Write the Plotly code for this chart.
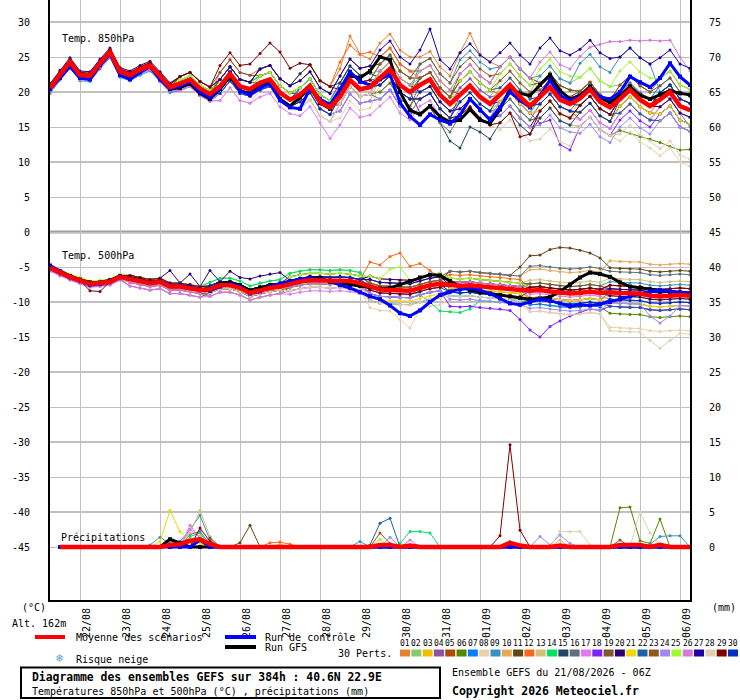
import plotly.graph_objects as go

# ---------------- data ----------------
steps = list(range(65))          # 6-hourly steps from 21/08 06Z
day_labels = ["22/08", "23/08", "24/08", "25/08", "26/08", "27/08", "28/08", "29/08",
              "30/08", "31/08", "01/09", "02/09", "03/09", "04/09", "05/09", "06/09"]
member_ids = ["01", "02", "03", "04", "05", "06", "07", "08", "09", "10",
              "11", "12", "13", "14", "15", "16", "17", "18", "19", "20",
              "21", "22", "23", "24", "25", "26", "27", "28", "29", "30"]
member_colors = ["#e88030", "#88c870", "#f0c000", "#9050a8", "#b04808", "#588800",
                 "#0080ff", "#e8d0a8", "#3890c0", "#e8a858", "#604818", "#f86818",
                 "#d0c078", "#00e060", "#204860", "#607078", "#e078f8", "#8020f8",
                 "#805830", "#300070", "#f0d800", "#2060a0", "#905820", "#a088f0",
                 "#a0f830", "#d878d8", "#2000a0", "#e0d0b0", "#800000", "#0030c0"]

# Temperature 850 hPa (degC)
t850_mean = [20.6,22.5,24.3,22.4,22.3,24.1,25.7,22.9,22.4,23.2,23.8,22.3,20.7,
             21.2,21.8,20.5,19.7,20.8,22.6,20.8,20.4,21.3,21.8,19.9,18.9,
             19.6,20.9,18.6,17.8,19.3,21.7,20.4,20.7,22.0,23.3,21.0,20.0,21.0,21.8,19.6,18.3,
             19.6,20.9,19.3,18.3,19.6,21.0,19.3,18.0,19.3,20.7,18.9,18.3,19.1,20.4,18.6,17.8,
             19.0,20.3,18.9,18.0,18.9,20.0,18.0,17.4]
t850_ctrl = [20.4,22.0,23.6,22.0,21.8,23.8,25.4,22.4,21.8,22.8,23.6,21.8,20.5,
             20.8,21.5,20.0,19.2,20.5,22.8,20.2,19.6,20.6,21.2,18.8,17.8,
             17.6,20.5,19.0,18.2,20.4,22.9,21.5,21.0,21.8,22.5,18.5,16.5,15.3,16.8,16.0,15.5,
             16.7,19.0,17.5,16.0,17.8,20.0,18.8,17.8,19.5,21.7,19.5,18.8,19.3,20.5,19.3,19.0,
             20.0,22.2,21.4,20.7,22.0,24.1,22.2,21.0]
t850_gfs = [20.5,22.3,24.0,22.2,22.0,24.0,25.6,22.6,22.0,23.0,23.8,22.0,20.4,
            20.6,21.2,19.8,19.0,20.4,22.2,20.2,19.8,20.8,21.4,19.0,18.0,
            19.2,20.6,18.4,17.6,19.6,22.4,22.0,23.0,25.0,24.6,20.0,17.4,16.8,18.0,16.5,15.7,
            16.0,17.5,16.0,15.5,17.5,20.5,19.8,19.5,21.0,22.4,20.2,19.0,19.5,20.8,19.2,18.5,
            19.5,20.8,19.5,19.0,19.6,20.2,19.8,19.6]

t850_01 = [20.8,22.7,24.5,22.6,22.5,24.3,25.9,23.1,22.6,23.4,24.0,22.5,20.9,
           21.2,21.8,20.5,19.7,21.8,23.6,21.8,21.4,23.3,23.8,21.9,20.9,
           22.6,23.9,21.6,20.8,23.3,28.0,25.4,24.7,27.0,28.3,26.0,25.0,25.0,25.8,23.6,22.3,
           25.6,28.4,25.3,24.3,23.6,25.0,23.3,22.0,20.3,21.7,19.9,19.3,20.1,21.4,19.6,18.8,
           19.0,20.3,18.9,18.0,18.9,20.0,18.0,17.4]
t850_02 = [20.3,22.2,24.0,22.1,22.0,23.8,25.4,22.6,22.1,22.9,23.5,22.0,20.4,
           21.7,22.3,21.0,20.2,21.8,23.6,21.8,21.4,22.3,22.8,20.9,19.9,
           20.6,21.9,19.6,18.8,21.3,23.7,22.4,22.7,23.0,24.3,22.0,21.0,22.0,22.8,20.6,19.3,
           20.6,21.9,20.3,19.3,21.6,23.0,21.3,20.0,22.3,23.7,21.9,21.3,22.1,23.4,21.6,20.8,
           21.0,22.3,20.9,20.0,19.9,21.0,19.0,18.4]
t850_03 = [20.9,22.8,24.6,22.7,22.6,24.4,26.0,23.2,22.7,23.5,24.1,22.6,21.0,
           21.7,22.3,21.0,20.2,20.8,22.6,20.8,20.4,21.3,21.8,19.9,18.9,
           18.6,19.9,17.6,16.8,19.3,21.7,20.4,20.7,21.0,22.3,20.0,19.0,19.0,19.8,17.6,16.3,
           19.6,20.9,19.3,18.3,20.6,22.0,20.3,19.0,18.3,19.7,17.9,17.3,17.1,18.4,16.6,15.8,
           18.0,19.3,17.9,17.0,16.9,18.0,16.0,15.4]
t850_04 = [20.1,22.0,23.8,21.9,21.8,23.6,25.2,22.4,21.9,22.7,23.3,21.8,20.2,
           20.2,20.8,19.5,18.7,19.8,21.6,19.8,19.4,20.3,20.8,18.9,17.9,
           17.6,18.9,16.6,15.8,18.3,20.7,19.4,19.7,20.0,21.3,19.0,18.0,21.0,21.8,19.6,18.3,
           20.6,21.9,20.3,19.3,19.6,21.0,19.3,18.0,18.3,19.7,17.9,17.3,16.1,17.4,15.6,14.8,
           17.0,18.3,16.9,16.0,15.9,17.0,15.0,14.4]
t850_05 = [20.6,22.4,24.4,22.5,22.3,24.2,25.8,22.9,22.3,23.3,23.9,22.4,20.8,
           21.2,21.8,20.5,19.7,21.8,23.6,21.8,21.4,22.3,22.8,20.9,19.9,
           20.6,21.9,19.6,18.8,21.3,23.7,22.4,22.7,25.0,26.3,24.0,23.0,23.0,23.8,21.6,20.3,
           19.6,20.9,19.3,18.3,18.6,20.0,18.3,17.0,17.3,18.7,16.9,16.3,18.1,19.4,17.6,16.8,
           19.0,20.3,18.9,18.0,17.9,19.0,17.0,16.4]
t850_06 = [20.4,22.3,24.1,22.2,22.1,23.9,25.5,22.7,22.2,23.0,23.6,22.1,20.5,
           20.7,21.3,20.0,19.2,20.8,22.6,20.8,20.4,21.3,21.8,19.9,18.9,
           19.6,20.9,18.6,17.8,18.3,20.7,19.4,19.7,20.0,21.3,19.0,18.0,20.0,20.8,18.6,17.3,
           18.6,19.9,18.3,17.3,17.6,19.0,17.3,16.0,16.3,17.7,15.9,15.3,15.1,16.4,14.6,13.8,
           14.5,14.1,13.6,13.3,12.8,12.2,11.7,11.8]
t850_07 = [20.0,21.9,23.7,21.8,21.7,23.5,25.1,22.3,21.8,22.6,23.2,21.7,20.1,
           20.2,20.8,19.5,18.7,19.8,21.6,19.8,19.4,21.3,21.8,19.9,18.9,
           19.6,20.9,18.6,17.8,20.3,22.7,21.4,21.7,22.0,23.3,21.0,20.0,20.0,20.8,18.6,17.3,
           17.6,18.9,17.3,16.3,18.6,20.0,18.3,17.0,19.3,20.7,18.9,18.3,20.1,21.4,19.6,18.8,
           20.0,21.3,19.9,19.0,20.9,22.0,20.0,19.4]
t850_08 = [20.2,22.1,23.9,22.0,21.9,23.7,25.3,22.5,22.0,22.8,23.4,21.9,20.3,
           20.2,20.8,19.5,18.7,18.8,20.6,18.8,18.4,20.3,20.8,18.9,17.9,
           17.6,18.9,16.6,15.8,16.3,18.7,17.4,17.7,21.0,22.3,20.0,19.0,19.0,19.8,17.6,16.3,
           16.6,17.9,16.3,15.3,15.6,17.0,15.3,14.0,16.3,17.7,15.9,15.3,15.1,16.4,14.6,13.8,
           13.0,14.3,12.9,12.0,10.9,12.0,10.0,9.4]
t850_09 = [19.8,21.7,23.5,21.6,21.5,23.3,24.9,22.1,21.6,22.4,23.0,21.5,19.9,
           20.2,20.8,19.5,18.7,19.8,21.6,19.8,19.4,20.3,20.8,18.9,17.9,
           20.6,21.9,19.6,18.8,21.3,23.7,22.4,22.7,22.0,23.3,21.0,20.0,24.0,24.8,22.6,21.3,
           24.6,25.9,24.3,23.3,23.6,25.0,23.3,22.0,22.3,23.7,21.9,21.3,24.1,25.4,23.6,22.8,
           25.0,26.3,24.9,24.0,20.0,19.0,17.0,15.0]
t850_10 = [21.0,22.9,24.7,22.8,22.7,24.5,26.1,23.3,22.8,23.6,24.2,22.7,21.1,
           22.2,22.8,21.5,20.7,21.8,23.6,21.8,21.4,22.3,22.8,20.9,19.9,
           19.6,20.9,18.6,17.8,20.3,22.7,21.4,21.7,24.0,25.3,23.0,22.0,22.0,22.8,20.6,19.3,
           19.6,20.9,19.3,18.3,20.6,22.0,20.3,19.0,19.3,20.7,18.9,18.3,18.1,19.4,17.6,16.8,
           17.0,18.3,16.9,16.0,17.9,19.0,17.0,16.4]
t850_11 = [20.7,22.6,24.2,22.4,22.4,24.0,25.6,23.0,22.5,23.1,23.7,22.3,20.6,
           22.2,22.8,21.5,20.7,21.8,23.6,21.8,21.4,23.3,23.8,21.9,20.9,
           21.6,22.9,20.6,19.8,22.3,24.7,23.4,23.7,24.0,25.3,23.0,22.0,22.0,22.8,20.6,19.3,
           22.6,23.9,22.3,21.3,23.6,25.0,23.3,22.0,21.3,22.7,20.9,20.3,20.1,21.4,19.6,18.8,
           19.0,20.3,18.9,18.0,19.9,21.0,19.0,18.4]
t850_12 = [20.8,22.7,24.4,22.6,22.5,24.3,25.8,23.1,22.6,23.4,23.9,22.5,20.9,
           21.2,21.8,20.5,19.7,22.8,24.6,22.8,22.4,23.3,23.8,21.9,20.9,
           22.6,23.9,21.6,20.8,24.3,26.7,25.4,25.7,25.0,26.3,24.0,23.0,22.0,22.8,20.6,19.3,
           21.6,22.9,21.3,20.3,19.6,21.0,19.3,18.0,18.3,19.7,17.9,17.3,17.1,18.4,16.6,15.8,
           18.0,19.3,17.9,17.0,18.9,20.0,18.0,17.4]
t850_13 = [20.4,22.3,24.1,22.2,22.1,23.9,25.5,22.7,22.2,23.0,23.6,22.1,20.5,
           21.2,21.8,20.5,19.7,19.8,21.6,19.8,19.4,21.3,21.8,19.9,18.9,
           18.6,19.9,17.6,16.8,17.3,19.7,18.4,18.7,22.0,23.3,21.0,20.0,22.0,22.8,20.6,19.3,
           19.6,20.9,19.3,18.3,18.6,20.0,18.3,17.0,17.3,18.7,16.9,16.3,19.1,20.4,18.6,17.8,
           20.0,21.3,19.9,19.0,18.9,20.0,18.0,17.4]
t850_14 = [20.6,22.5,24.3,22.3,22.2,24.1,25.6,22.8,22.4,23.2,23.8,22.3,20.7,
           21.7,22.3,21.0,20.2,21.8,23.6,21.8,21.4,22.3,22.8,20.9,19.9,
           20.6,21.9,19.6,18.8,19.3,21.7,20.4,20.7,23.0,24.3,22.0,21.0,21.0,21.8,19.6,18.3,
           18.6,19.9,18.3,17.3,18.6,20.0,18.3,17.0,19.3,20.7,18.9,18.3,20.1,21.4,19.6,18.8,
           19.0,20.3,18.9,18.0,19.9,21.0,19.0,18.4]
t850_15 = [20.3,22.2,24.0,22.1,22.0,23.8,25.4,22.6,22.1,22.9,23.5,22.0,20.4,
           21.2,21.8,20.5,19.7,21.8,23.6,21.8,21.4,23.3,23.8,21.9,20.9,
           22.6,23.9,21.6,20.8,21.3,23.7,22.4,22.7,22.0,23.3,21.0,20.0,17.0,17.8,15.6,13.0,
           12.0,15.0,14.3,13.3,15.6,17.0,15.3,14.0,16.3,17.7,15.9,15.3,17.1,18.4,16.6,15.8,
           18.0,19.3,17.9,17.0,16.9,18.0,16.0,15.4]
t850_16 = [20.7,22.6,24.4,22.5,22.4,24.2,25.8,23.0,22.5,23.3,23.9,22.4,20.8,
           20.7,21.3,20.0,19.2,20.8,22.6,20.8,20.4,22.3,22.8,20.9,19.9,
           19.6,20.9,18.6,17.8,18.3,20.7,19.4,19.7,19.0,20.3,18.0,17.0,17.0,17.8,15.6,14.3,
           16.6,17.9,16.3,15.3,17.6,19.0,17.3,16.0,18.3,19.7,17.9,17.3,19.1,20.4,18.6,17.8,
           20.0,21.3,19.9,19.0,18.9,20.0,18.0,17.4]
t850_17 = [20.0,21.9,23.7,21.8,21.7,23.5,25.1,22.3,21.8,22.6,23.2,21.7,20.1,
           20.2,20.8,19.5,18.7,18.8,20.6,18.8,18.4,19.3,19.8,17.9,16.9,
           16.6,17.9,15.6,13.4,15.3,17.7,16.4,16.7,18.0,19.3,17.0,16.0,18.0,18.8,16.6,15.3,
           17.6,18.9,17.3,16.3,18.6,20.0,18.3,17.0,17.3,18.7,16.9,16.3,16.1,17.4,15.6,14.8,
           17.0,18.3,16.9,16.0,17.9,19.0,17.0,16.4]
t850_18 = [20.6,22.5,24.2,22.4,22.3,24.0,25.7,22.9,22.3,23.2,23.8,22.2,20.7,
           21.2,21.8,20.5,19.7,19.8,21.6,19.8,19.4,20.3,20.8,18.9,17.9,
           18.6,19.9,17.6,16.8,17.3,19.7,18.4,18.7,19.0,20.3,18.0,17.0,19.0,19.8,17.6,16.3,
           19.6,20.9,19.3,18.3,18.6,20.0,18.3,17.0,15.5,16.0,12.5,11.7,15.1,16.4,14.6,13.8,
           16.0,17.3,15.9,15.0,16.9,18.0,16.0,15.4]
t850_19 = [20.9,22.8,24.6,22.7,22.6,24.4,26.0,23.2,22.7,23.5,24.1,22.6,21.0,
           22.2,22.8,21.5,20.7,22.8,24.6,22.8,22.4,22.3,22.8,20.9,19.9,
           19.6,20.9,18.6,17.8,20.3,22.7,21.4,21.7,24.0,25.3,23.0,22.0,24.0,24.8,22.6,21.3,
           23.6,24.9,23.3,22.3,22.6,24.0,22.3,21.0,21.3,22.7,20.9,20.3,20.1,21.4,19.6,18.8,
           21.0,22.3,20.9,20.0,21.9,23.0,21.0,20.4]
t850_20 = [20.5,22.5,24.3,22.5,22.3,24.1,25.7,22.8,22.4,23.2,23.8,22.3,20.6,
           21.2,21.8,20.5,19.7,20.8,22.6,20.8,20.4,20.3,20.8,18.9,17.9,
           18.6,19.9,17.6,16.8,19.3,21.7,20.4,20.7,23.0,24.3,22.0,21.0,20.0,20.8,18.6,17.3,
           17.6,18.9,17.3,16.3,16.6,18.0,16.3,15.0,17.3,18.7,16.9,16.3,18.1,19.4,17.6,16.8,
           19.0,20.3,18.9,18.0,17.9,19.0,17.0,16.4]
t850_21 = [21.1,23.0,24.8,22.9,22.8,24.6,26.2,23.4,22.9,23.7,24.3,22.8,21.2,
           22.2,22.8,21.5,20.7,20.8,22.6,20.8,20.4,21.3,21.8,19.9,18.9,
           18.6,19.9,17.6,16.8,19.3,21.7,20.4,20.7,23.0,24.3,22.0,21.0,21.0,21.8,19.6,18.3,
           18.6,19.9,18.3,17.3,18.6,20.0,18.3,17.0,17.3,18.7,16.9,16.3,17.1,18.4,16.6,15.8,
           18.0,19.3,17.9,17.0,16.9,18.0,16.0,15.4]
t850_22 = [20.4,22.3,24.1,22.2,22.1,23.9,25.5,22.7,22.2,23.0,23.6,22.1,20.5,
           21.2,21.8,20.5,19.7,20.8,22.6,20.8,20.4,21.3,21.8,19.9,18.9,
           20.6,21.9,19.6,18.8,19.3,21.7,20.4,20.7,21.0,22.3,20.0,19.0,22.0,22.8,20.6,19.3,
           21.6,22.9,21.3,20.3,20.6,22.0,20.3,19.0,19.3,20.7,18.9,18.3,18.1,19.4,17.6,16.8,
           17.0,18.3,16.9,16.0,15.9,17.0,15.0,14.4]
t850_23 = [20.9,22.8,24.6,22.7,22.6,24.4,26.0,23.2,22.7,23.5,24.1,22.6,21.0,
           21.2,21.8,20.5,19.7,21.8,23.6,21.8,21.4,21.3,21.8,19.9,18.9,
           19.6,20.9,18.6,17.8,18.3,20.7,19.4,19.7,22.0,23.3,21.0,20.0,22.0,22.8,20.6,19.3,
           21.6,22.9,21.3,20.3,21.6,23.0,21.3,20.0,20.3,21.7,19.9,19.3,20.1,21.4,19.6,18.8,
           21.0,22.3,20.9,20.0,20.9,22.0,20.0,19.4]
t850_24 = [20.3,22.2,24.0,22.1,22.0,23.8,25.4,22.6,22.1,22.9,23.5,22.0,20.4,
           20.2,20.8,19.5,18.7,19.8,21.6,19.8,19.4,20.3,20.8,18.9,17.9,
           18.6,19.9,17.6,16.8,17.3,19.7,18.4,18.7,19.0,20.3,18.0,17.0,19.0,19.8,17.6,16.3,
           18.6,19.9,18.3,17.3,16.6,18.0,16.3,15.0,15.3,16.7,14.9,14.3,14.1,15.4,13.6,12.8,
           15.0,16.3,14.9,14.0,15.9,17.0,15.0,14.4]
t850_25 = [20.6,22.6,24.3,22.4,22.2,24.1,25.7,22.9,22.5,23.2,23.8,22.4,20.7,
           21.7,22.3,21.0,20.2,20.8,22.6,20.8,20.4,22.3,22.8,20.9,19.9,
           20.6,21.9,19.6,18.8,19.3,21.7,20.4,20.7,23.0,24.3,22.0,21.0,23.0,23.8,21.6,20.3,
           21.6,22.9,21.3,20.3,22.6,24.0,22.3,21.0,23.3,24.7,22.9,22.3,22.1,23.4,21.6,20.8,
           23.0,24.3,22.9,22.0,21.9,23.0,21.0,20.4]
t850_26 = [20.1,22.0,23.8,21.9,21.8,23.6,25.2,22.4,21.9,22.7,23.3,21.8,20.2,
           20.2,20.8,19.5,18.7,19.8,21.6,19.8,19.4,21.3,21.8,19.9,18.9,
           19.6,20.9,18.6,17.8,18.3,20.7,19.4,19.7,23.0,24.3,22.0,21.0,23.0,23.8,21.6,20.3,
           22.6,23.9,22.3,21.3,23.6,25.0,23.3,22.0,24.3,25.7,23.9,23.3,25.1,26.4,26.8,27.2,
           27.2,27.4,27.3,27.4,27.3,27.4,25.0,23.0]
t850_27 = [21.2,23.1,24.9,23.0,22.9,24.7,26.3,23.5,23.0,23.8,24.4,22.9,21.3,
           22.2,22.8,21.5,20.7,21.8,23.6,21.8,21.4,23.3,23.8,21.9,20.9,
           21.6,22.9,20.6,19.8,22.3,24.7,23.4,23.7,26.0,27.3,25.0,24.0,26.0,29.0,24.6,23.3,
           25.6,26.9,25.3,24.3,25.6,27.0,25.3,24.0,26.3,27.7,25.9,25.3,26.1,27.4,25.6,24.8,
           25.0,26.3,24.9,24.0,24.9,26.0,24.0,23.4]
t850_28 = [20.7,22.6,24.4,22.5,22.4,24.2,25.8,23.0,22.5,23.3,23.9,22.4,20.8,
           21.2,21.8,20.5,19.7,19.8,21.6,19.8,19.4,20.3,20.8,18.9,17.9,
           17.6,18.9,16.6,15.8,18.3,20.7,19.4,19.7,22.0,23.3,21.0,20.0,19.0,19.8,17.6,16.3,
           16.6,17.9,16.3,15.3,14.6,16.0,14.3,13.0,13.3,14.7,12.9,12.3,15.1,16.4,14.6,13.8,
           14.0,15.3,13.9,13.0,11.9,13.0,11.0,10.4]
t850_29 = [21.0,22.9,24.7,22.8,22.7,24.5,26.1,23.3,22.8,23.6,24.2,22.7,21.1,
           22.2,22.8,21.5,20.7,23.8,25.6,23.8,24.0,25.5,27.0,25.7,23.4,
           24.1,23.9,21.6,20.8,20.3,22.7,21.4,21.7,21.0,22.3,20.0,19.0,19.0,19.8,17.6,16.3,
           16.6,17.9,16.3,15.3,15.6,17.0,13.6,14.0,17.3,18.7,16.9,16.3,18.1,19.4,17.6,16.8,
           19.0,20.3,18.9,18.0,19.9,21.0,19.0,18.4]
t850_30 = [20.5,22.4,24.2,22.3,22.2,24.0,25.6,22.8,22.3,23.1,23.7,22.2,20.6,
           21.2,21.8,20.5,19.7,19.8,21.6,19.8,19.4,20.3,20.8,18.9,17.9,
           18.6,19.9,17.6,16.8,19.3,21.7,20.4,20.7,21.0,22.3,20.0,19.0,19.0,19.8,17.6,16.3,
           18.6,19.9,18.3,17.3,19.6,21.0,19.3,18.0,18.3,19.7,17.9,17.3,17.1,18.4,16.6,15.8,
           19.0,20.3,18.9,18.0,19.9,21.0,19.0,18.4]

# Temperature 500 hPa (degC)
t500_mean = [-5.1,-5.8,-6.4,-6.9,-7.4,-7.3,-7.1,-6.4,
             -6.7,-7.0,-7.3,-7.1,-7.8,-7.8,-8.0,-8.3,
             -8.2,-7.6,-7.6,-8.0,-8.7,-8.3,-8.0,-7.8,
             -7.4,-7.1,-6.9,-6.9,-7.0,-6.9,-7.0,-7.3,
             -7.8,-8.2,-8.3,-8.4,-8.4,-8.0,-7.6,-7.4,
             -7.6,-7.7,-7.6,-7.8,-7.9,-8.0,-8.2,-8.3,
             -8.4,-8.3,-8.5,-8.7,-8.8,-8.7,-8.5,-8.7,
             -8.6,-8.7,-8.8,-8.8,-9.1,-9.2,-9.1,-9.0,-9.1]
t500_ctrl = [-4.8,-5.6,-6.3,-6.9,-7.5,-7.4,-7.0,-6.3,
             -6.6,-7.0,-7.2,-7.0,-7.6,-7.6,-7.9,-8.2,
             -8.4,-7.8,-7.4,-7.8,-8.8,-8.5,-7.8,-7.4,
             -7.0,-6.8,-6.6,-6.8,-7.0,-7.6,-8.0,-8.6,
             -9.2,-9.6,-10.5,-11.6,-12.0,-11.2,-10.0,-9.0,
             -8.5,-8.2,-8.0,-8.3,-8.8,-9.5,-10.2,-10.4,
             -10.0,-9.6,-9.8,-10.2,-10.6,-10.4,-10.5,-10.3,
             -10.0,-9.6,-9.2,-8.8,-8.5,-8.3,-8.5,-8.6,-8.7]
t500_gfs = [-5.0,-5.7,-6.3,-6.8,-7.2,-7.2,-6.9,-6.3,
            -6.5,-6.8,-7.2,-7.0,-7.7,-7.7,-7.9,-8.3,
            -8.2,-7.4,-7.2,-7.6,-8.4,-8.0,-7.6,-7.5,
            -7.3,-7.0,-6.5,-6.6,-7.1,-7.3,-7.6,-7.7,
            -7.9,-8.1,-8.0,-7.5,-7.0,-6.5,-6.1,-6.2,
            -7.0,-7.8,-8.3,-8.6,-8.8,-9.0,-9.2,-9.4,
            -9.6,-9.5,-9.3,-8.5,-7.5,-6.5,-5.8,-6.0,
            -6.4,-7.2,-7.8,-8.0,-8.2,-8.4,-8.6,-8.8,-8.9]

t500_01 = [-5.1,-5.8,-6.4,-6.9,-7.4,-7.3,-7.1,-6.4, -6.4,-6.7,-7.0,-6.8,-7.5,-7.5,-7.7,-8.0,
           -7.7,-7.1,-7.1,-7.5,-8.2,-7.8,-7.5,-7.3, -6.9,-6.6,-6.4,-6.4,-6.5,-6.4,-6.5,-6.8,
           -6.3,-6.7,-6.8,-6.9,-6.9,-6.5,-6.1,-5.9, -6.6,-6.7,-6.6,-6.8,-6.9,-7.0,-7.2,-7.3,
           -7.9,-7.8,-8.0,-8.2,-8.3,-8.2,-8.0,-8.2, -7.6,-7.7,-7.8,-7.8,-8.1,-8.2,-8.1,-8.0,-8.1]
t500_02 = [-5.3,-6.0,-6.6,-7.1,-7.6,-7.5,-7.3,-6.6, -6.2,-6.5,-6.8,-6.6,-7.3,-7.3,-7.5,-7.8,
           -7.2,-6.6,-6.6,-7.0,-7.7,-7.3,-7.0,-6.8, -5.9,-5.6,-5.4,-5.4,-5.5,-5.4,-5.5,-5.8,
           -6.8,-7.2,-7.3,-7.4,-7.4,-7.0,-6.6,-6.4, -7.1,-7.2,-7.1,-7.3,-7.4,-7.5,-7.7,-7.8,
           -8.4,-8.3,-8.5,-8.7,-8.8,-8.7,-8.5,-8.7, -9.1,-9.2,-9.3,-9.3,-9.6,-9.7,-9.6,-9.5,-9.6]
t500_03 = [-4.9,-5.6,-6.2,-6.7,-7.2,-7.1,-6.9,-6.2, -6.7,-7.0,-7.3,-7.1,-7.8,-7.8,-8.0,-8.3,
           -8.2,-7.6,-7.6,-8.0,-8.7,-8.3,-8.0,-7.8, -7.9,-7.6,-7.4,-7.4,-7.5,-7.4,-7.5,-7.8,
           -8.8,-9.2,-9.3,-9.4,-9.4,-9.0,-8.6,-8.4, -9.1,-9.2,-9.1,-9.3,-9.4,-9.5,-9.7,-9.8,
           -9.4,-9.3,-9.5,-9.7,-9.8,-9.7,-9.5,-9.7, -9.1,-9.2,-9.3,-9.3,-9.6,-9.7,-9.6,-9.5,-9.6]
t500_04 = [-5.1,-5.8,-6.4,-6.9,-7.4,-7.3,-7.1,-6.4, -7.0,-7.3,-7.6,-7.4,-8.1,-8.1,-8.3,-8.6,
           -8.7,-8.1,-8.1,-8.5,-9.2,-8.8,-8.5,-8.3, -7.4,-7.1,-6.9,-6.9,-7.0,-6.9,-7.0,-7.3,
           -7.3,-7.7,-7.8,-7.9,-7.9,-7.5,-7.1,-6.9, -7.6,-7.7,-7.6,-7.8,-7.9,-8.0,-8.2,-8.3,
           -9.4,-9.3,-9.5,-9.7,-9.8,-9.7,-9.5,-9.7, -10.1,-10.2,-10.3,-10.3,-10.6,-10.7,-10.6,-10.5,-10.6]
t500_05 = [-5.0,-5.7,-6.3,-6.8,-7.3,-7.2,-7.0,-6.3, -6.4,-6.7,-7.0,-6.8,-7.5,-7.5,-7.7,-8.0,
           -7.7,-7.1,-7.1,-7.5,-8.2,-7.8,-7.5,-7.3, -6.4,-6.1,-5.9,-5.9,-6.0,-5.9,-6.0,-6.3,
           -7.3,-7.7,-7.8,-7.9,-7.9,-7.5,-7.1,-6.9, -8.1,-8.2,-8.1,-8.3,-8.4,-8.5,-8.7,-8.8,
           -9.4,-9.3,-9.5,-9.7,-9.8,-9.7,-9.5,-9.7, -8.6,-8.7,-8.8,-8.8,-9.1,-9.2,-9.1,-9.0,-9.1]
t500_06 = [-5.4,-6.1,-6.7,-7.2,-7.7,-7.6,-7.4,-6.7, -7.2,-7.5,-7.8,-7.6,-8.3,-8.3,-8.5,-8.8,
           -9.2,-8.6,-8.6,-9.0,-9.7,-9.3,-9.0,-8.8, -7.9,-7.6,-7.4,-7.4,-7.5,-7.4,-7.5,-7.8,
           -7.8,-8.2,-8.3,-8.4,-8.4,-8.0,-7.6,-7.4, -8.6,-8.7,-8.6,-8.8,-8.9,-9.0,-9.2,-9.3,
           -10.4,-10.3,-10.5,-10.7,-10.8,-10.7,-10.5,-10.7, -11.6,-11.7,-11.8,-11.8,-12.1,-12.2,-12.1,-12.0,-12.1]
t500_07 = [-5.1,-5.8,-6.4,-6.9,-7.4,-7.3,-7.1,-6.4, -6.7,-7.0,-7.3,-7.1,-7.8,-7.8,-8.0,-8.3,
           -7.7,-7.1,-7.1,-7.5,-8.2,-7.8,-7.5,-7.3, -7.4,-7.1,-6.9,-6.9,-7.0,-6.9,-7.0,-7.3,
           -8.8,-9.2,-9.3,-9.4,-9.4,-9.0,-8.6,-8.4, -9.1,-9.2,-9.1,-9.3,-9.4,-9.5,-9.7,-9.8,
           -10.4,-10.3,-10.5,-10.7,-10.8,-10.7,-10.5,-10.7, -9.6,-9.7,-9.8,-9.8,-10.1,-10.2,-10.1,-10.0,-10.1]
t500_08 = [-4.9,-5.6,-6.2,-6.7,-7.2,-7.1,-6.9,-6.2, -6.7,-7.0,-7.3,-7.1,-7.8,-7.8,-8.0,-8.3,
           -8.7,-8.1,-8.1,-8.5,-9.2,-8.8,-8.5,-8.3, -8.4,-8.1,-7.9,-7.9,-8.0,-7.9,-8.0,-8.3,
           -10.8,-11.2,-11.3,-12.5,-13.7,-11.0,-10.6,-10.4, -9.6,-9.7,-9.6,-9.8,-9.9,-10.0,-10.2,-10.3,
           -11.4,-11.3,-11.5,-11.7,-11.8,-11.7,-11.5,-11.7, -13.6,-13.7,-13.8,-13.8,-14.1,-14.2,-14.1,-14.0,-14.1]
t500_09 = [-5.2,-5.9,-6.5,-7.0,-7.5,-7.4,-7.2,-6.5, -6.2,-6.5,-6.8,-6.6,-7.3,-7.3,-7.5,-7.8,
           -7.7,-7.1,-7.1,-7.5,-8.2,-7.8,-7.5,-7.3, -6.9,-6.6,-6.4,-6.4,-6.5,-6.4,-6.5,-6.8,
           -7.8,-8.2,-8.3,-8.4,-8.4,-8.0,-7.6,-7.4, -7.1,-7.2,-7.1,-7.3,-7.4,-7.5,-7.7,-7.8,
           -7.4,-7.3,-7.5,-7.7,-7.8,-7.7,-7.5,-7.7, -7.1,-7.2,-7.3,-7.3,-7.6,-7.7,-7.6,-7.5,-7.6]
t500_10 = [-5.1,-5.8,-6.4,-6.9,-7.4,-7.3,-7.1,-6.4, -6.7,-7.0,-7.3,-7.1,-7.8,-7.8,-8.0,-8.3,
           -7.7,-7.1,-7.1,-7.5,-8.2,-7.8,-7.5,-7.3, -6.9,-6.6,-6.4,-6.4,-6.5,-6.4,-6.5,-6.8,
           -6.8,-7.2,-7.3,-7.4,-7.4,-7.0,-6.6,-6.4, -5.6,-5.7,-5.6,-5.8,-5.9,-6.0,-6.2,-6.3,
           -5.4,-5.3,-5.5,-5.7,-5.8,-5.7,-5.5,-5.7, -4.1,-4.2,-4.3,-4.3,-4.6,-4.7,-4.6,-4.5,-4.6]
t500_11 = [-5.5,-6.2,-6.8,-7.3,-7.8,-7.7,-7.5,-6.8, -7.7,-8.0,-8.3,-8.1,-8.8,-8.8,-9.0,-9.3,
           -8.7,-8.1,-8.1,-8.5,-9.2,-8.8,-8.5,-8.3, -7.4,-7.1,-6.9,-6.9,-7.0,-6.9,-7.0,-7.3,
           -7.3,-7.7,-7.8,-7.9,-7.9,-7.5,-7.1,-6.9, -5.6,-5.7,-5.6,-5.8,-5.9,-6.0,-6.2,-5.0,
           -3.4,-3.3,-2.5,-2.2,-2.3,-2.6,-3.0,-3.7, -5.1,-5.2,-5.3,-5.3,-5.6,-5.7,-5.6,-5.5,-5.6]
t500_12 = [-4.9,-5.6,-6.2,-6.7,-7.2,-7.1,-6.9,-6.2, -6.2,-6.5,-6.8,-6.6,-7.3,-7.3,-7.5,-7.8,
           -8.2,-7.6,-7.6,-8.0,-8.7,-8.3,-8.0,-7.8, -6.9,-6.6,-6.4,-6.4,-6.5,-6.4,-6.5,-6.8,
           -4.3,-4.7,-3.5,-3.0,-4.9,-4.5,-5.5,-6.5, -6.1,-6.2,-6.1,-6.3,-6.4,-6.5,-6.7,-6.8,
           -7.9,-7.8,-8.0,-8.2,-8.3,-8.2,-8.0,-8.2, -8.6,-8.7,-8.8,-8.8,-9.1,-9.2,-9.1,-9.0,-9.1]
t500_13 = [-5.1,-5.8,-6.4,-6.9,-7.4,-7.3,-7.1,-6.4, -7.2,-7.5,-7.8,-7.6,-8.3,-8.3,-8.5,-8.8,
           -8.7,-8.1,-8.1,-8.5,-9.2,-8.8,-8.5,-8.3, -7.4,-7.1,-6.9,-6.9,-7.0,-6.9,-7.0,-7.3,
           -7.3,-7.7,-7.8,-7.9,-7.9,-7.5,-7.1,-6.9, -6.6,-6.7,-6.6,-6.8,-6.9,-7.0,-7.2,-7.3,
           -6.9,-6.8,-7.0,-7.2,-7.3,-7.2,-7.0,-7.2, -6.6,-6.7,-6.8,-6.8,-7.1,-7.2,-7.1,-7.0,-7.1]
t500_14 = [-5.0,-5.7,-6.3,-6.8,-7.3,-7.2,-7.0,-6.3, -6.2,-6.5,-6.8,-6.6,-7.3,-7.3,-7.5,-7.8,
           -7.2,-6.6,-6.6,-7.0,-7.7,-7.3,-7.0,-6.8, -5.9,-5.6,-5.4,-5.4,-5.5,-5.4,-5.5,-5.8,
           -7.8,-8.2,-8.3,-8.4,-8.4,-9.0,-10.0,-11.3, -11.4,-11.5,-11.0,-9.8,-9.9,-10.0,-10.2,-10.3,
           -9.4,-9.3,-9.5,-9.7,-9.8,-9.7,-9.5,-9.7, -8.6,-8.7,-8.8,-8.8,-9.1,-9.2,-9.1,-9.0,-9.1]
t500_15 = [-5.3,-6.0,-6.6,-7.1,-7.6,-7.5,-7.3,-6.6, -6.7,-7.0,-7.3,-7.1,-7.8,-7.8,-8.0,-8.3,
           -8.7,-8.1,-8.1,-8.5,-9.2,-8.8,-8.5,-8.3, -8.4,-8.1,-7.9,-7.9,-8.0,-7.9,-8.0,-8.3,
           -9.8,-10.2,-10.3,-10.4,-10.4,-10.0,-9.6,-9.4, -8.6,-8.7,-8.6,-8.8,-8.9,-9.0,-9.2,-9.3,
           -8.4,-8.3,-8.5,-8.7,-8.8,-8.7,-8.5,-8.7, -8.1,-8.2,-8.3,-8.3,-8.6,-8.7,-8.6,-8.5,-8.6]
t500_16 = [-4.8,-5.5,-6.1,-6.6,-7.1,-7.0,-6.8,-6.1, -6.2,-6.5,-6.8,-6.6,-7.3,-7.3,-7.5,-7.8,
           -8.2,-7.6,-7.6,-8.0,-8.7,-8.3,-8.0,-7.8, -6.9,-6.6,-6.4,-6.4,-6.5,-6.4,-6.5,-6.8,
           -6.8,-7.2,-7.3,-7.4,-7.4,-7.0,-6.6,-6.4, -5.6,-5.7,-5.6,-5.8,-5.9,-6.0,-6.2,-6.3,
           -4.9,-4.8,-5.0,-5.2,-5.3,-5.2,-5.0,-5.2, -5.6,-5.7,-5.8,-5.8,-6.1,-6.2,-6.1,-6.0,-6.1]
t500_17 = [-5.6,-6.3,-6.9,-7.4,-7.9,-7.8,-7.6,-6.9, -7.7,-8.0,-8.3,-8.1,-8.8,-8.8,-9.0,-9.3,
           -9.2,-8.6,-8.6,-9.0,-9.7,-9.3,-9.0,-8.8, -8.9,-8.6,-8.4,-8.4,-8.5,-8.4,-8.5,-8.8,
           -8.3,-8.7,-8.8,-8.9,-8.9,-8.5,-8.1,-7.9, -7.6,-7.7,-7.6,-7.8,-7.9,-8.0,-8.2,-8.3,
           -9.4,-9.3,-9.5,-9.7,-9.8,-9.7,-9.5,-9.7, -10.6,-10.7,-10.8,-10.8,-11.1,-11.2,-11.1,-11.0,-11.1]
t500_18 = [-5.1,-5.8,-6.4,-6.9,-7.4,-7.3,-7.1,-6.4, -6.7,-7.0,-7.3,-7.1,-7.8,-7.8,-8.0,-8.3,
           -7.7,-7.1,-7.1,-7.5,-8.2,-7.8,-7.5,-7.3, -7.4,-7.1,-6.9,-6.9,-7.0,-6.9,-7.0,-7.3,
           -8.8,-9.2,-9.3,-9.4,-9.4,-9.0,-8.6,-8.4, -10.6,-10.7,-10.6,-10.8,-10.9,-11.0,-11.2,-12.5,
           -14.0,-15.0,-13.5,-12.7,-12.0,-11.5,-11.0,-11.2, -10.6,-10.7,-10.8,-10.8,-11.1,-11.2,-11.1,-11.0,-11.1]
t500_19 = [-4.9,-5.6,-6.2,-6.7,-7.2,-7.1,-6.9,-6.2, -6.2,-6.5,-6.8,-6.6,-7.3,-7.3,-7.5,-7.8,
           -7.7,-7.1,-7.1,-7.5,-8.2,-7.8,-7.5,-7.3, -6.4,-6.1,-5.9,-5.9,-6.0,-5.9,-6.0,-6.3,
           -7.3,-7.7,-7.8,-7.9,-7.9,-7.5,-7.1,-6.9, -6.6,-6.7,-6.6,-6.8,-6.9,-7.0,-7.2,-7.3,
           -7.4,-7.3,-7.5,-7.7,-7.8,-7.7,-7.5,-7.7, -8.1,-8.2,-8.3,-8.3,-8.6,-8.7,-8.6,-8.5,-8.6]
t500_20 = [-5.1,-5.8,-6.4,-6.9,-7.4,-7.3,-7.1,-6.4, -6.2,-6.5,-6.8,-6.6,-5.5,-7.3,-6.0,-7.8,
           -5.5,-7.1,-5.6,-6.5,-6.7,-6.3,-6.0,-5.8, -6.9,-6.6,-6.4,-6.4,-6.5,-6.4,-6.5,-6.8,
           -6.3,-6.7,-6.8,-6.9,-6.9,-6.5,-6.1,-5.9, -7.1,-7.2,-7.1,-7.3,-7.4,-7.5,-7.7,-7.8,
           -8.4,-8.3,-8.5,-8.7,-8.8,-8.7,-8.5,-8.7, -9.1,-9.2,-9.3,-9.3,-9.6,-9.7,-9.6,-9.5,-9.6]
t500_21 = [-4.8,-5.5,-6.1,-6.6,-7.1,-7.0,-6.8,-6.1, -6.7,-7.0,-7.3,-7.1,-7.8,-7.8,-8.0,-8.3,
           -8.2,-7.6,-7.6,-8.0,-8.7,-8.3,-8.0,-7.8, -7.9,-7.6,-7.4,-7.4,-7.5,-7.4,-7.5,-7.8,
           -9.3,-9.7,-9.8,-9.9,-9.9,-9.5,-9.1,-8.9, -8.1,-8.2,-8.1,-8.3,-8.4,-8.5,-8.7,-8.8,
           -9.4,-9.3,-9.5,-9.7,-9.8,-9.7,-9.5,-9.7, -10.1,-10.2,-10.3,-10.3,-10.6,-10.7,-10.6,-10.5,-10.6]
t500_22 = [-5.4,-6.1,-6.7,-7.2,-7.7,-7.6,-7.4,-6.7, -6.7,-7.0,-7.3,-7.1,-7.8,-7.8,-8.0,-8.3,
           -7.7,-7.1,-7.1,-7.5,-8.2,-7.8,-7.5,-7.3, -7.4,-7.1,-6.9,-6.9,-7.0,-6.9,-7.0,-7.3,
           -8.3,-8.7,-8.8,-8.9,-8.9,-8.5,-8.1,-7.9, -8.6,-8.7,-8.6,-8.8,-8.9,-9.0,-9.2,-9.3,
           -9.9,-9.8,-10.0,-10.2,-10.3,-10.2,-10.0,-10.2, -10.6,-10.7,-10.8,-10.8,-11.1,-11.2,-11.1,-11.0,-11.1]
t500_23 = [-5.1,-5.8,-6.4,-6.9,-7.4,-7.3,-7.1,-6.4, -7.2,-7.5,-7.8,-7.6,-8.3,-8.3,-8.5,-8.8,
           -8.7,-8.1,-8.1,-8.5,-9.2,-8.8,-8.5,-8.3, -7.9,-7.6,-7.4,-7.4,-7.5,-7.4,-7.5,-7.8,
           -7.8,-8.2,-8.3,-8.4,-8.4,-8.0,-7.6,-7.4, -7.1,-7.2,-7.1,-7.3,-7.4,-7.5,-7.7,-7.8,
           -7.9,-7.8,-8.0,-8.2,-8.3,-8.2,-8.0,-8.2, -7.6,-7.7,-7.8,-7.8,-8.1,-8.2,-8.1,-8.0,-8.1]
t500_24 = [-5.2,-5.9,-6.5,-7.0,-7.5,-7.4,-7.2,-6.5, -6.7,-7.0,-7.3,-7.1,-7.8,-7.8,-8.0,-8.3,
           -8.2,-7.6,-7.6,-8.0,-8.7,-8.3,-8.0,-7.8, -7.9,-7.6,-7.4,-7.4,-7.5,-7.4,-7.5,-7.8,
           -8.8,-9.2,-9.3,-9.4,-9.4,-9.0,-8.6,-8.4, -9.6,-9.7,-9.6,-9.8,-9.9,-10.0,-10.2,-10.3,
           -10.9,-10.8,-11.0,-11.2,-11.3,-11.2,-11.0,-11.2, -10.1,-10.2,-10.3,-10.3,-12.0,-13.0,-12.0,-10.5,-10.6]
t500_25 = [-4.7,-5.4,-6.0,-6.5,-7.0,-6.9,-6.7,-6.0, -6.2,-6.5,-6.8,-6.6,-7.3,-7.3,-7.5,-7.8,
           -8.2,-7.6,-7.6,-8.0,-8.7,-8.3,-8.0,-7.8, -6.4,-6.1,-5.9,-5.9,-6.0,-5.9,-6.0,-6.3,
           -6.3,-6.7,-5.3,-5.0,-6.9,-6.5,-6.1,-5.9, -6.6,-6.7,-6.6,-6.8,-6.9,-7.0,-7.2,-7.3,
           -7.9,-7.8,-8.0,-8.2,-8.3,-8.2,-8.0,-8.2, -8.6,-8.7,-8.8,-8.8,-9.1,-9.2,-9.1,-9.0,-9.1]
t500_26 = [-5.4,-6.1,-6.7,-7.2,-7.7,-7.6,-7.4,-6.7, -7.2,-7.5,-7.8,-7.6,-8.3,-8.3,-8.5,-8.8,
           -9.2,-8.6,-8.6,-9.0,-9.7,-9.3,-9.0,-8.8, -8.4,-8.1,-7.9,-7.9,-8.0,-7.9,-8.0,-8.3,
           -7.8,-8.2,-8.3,-8.4,-8.4,-8.0,-7.6,-7.4, -7.1,-7.2,-7.1,-7.3,-7.4,-7.5,-7.7,-7.8,
           -8.9,-8.8,-9.0,-9.2,-9.3,-9.2,-9.0,-9.2, -9.6,-9.7,-9.8,-9.8,-10.1,-10.2,-10.1,-10.0,-10.1]
t500_27 = [-5.1,-5.8,-6.4,-6.9,-7.4,-7.3,-7.1,-6.4, -6.7,-7.0,-7.3,-7.1,-7.8,-7.8,-8.0,-8.3,
           -7.7,-7.1,-7.1,-7.5,-8.2,-7.8,-7.5,-7.3, -6.9,-6.6,-6.4,-6.4,-6.5,-6.4,-6.5,-6.8,
           -6.8,-7.2,-7.3,-7.4,-7.4,-7.0,-6.6,-6.4, -7.6,-7.7,-7.6,-7.8,-7.9,-8.0,-8.2,-8.3,
           -7.9,-7.8,-8.0,-8.2,-8.3,-8.2,-8.0,-8.2, -8.1,-8.2,-8.3,-8.3,-8.6,-8.7,-8.6,-8.5,-8.6]
t500_28 = [-5.0,-5.7,-6.3,-6.8,-7.3,-7.2,-7.0,-6.3, -6.7,-7.0,-7.3,-7.1,-7.8,-7.8,-8.0,-8.3,
           -8.7,-8.1,-8.1,-8.5,-9.2,-8.8,-8.5,-8.3, -8.4,-8.1,-7.9,-7.9,-8.0,-7.9,-8.0,-8.3,
           -9.8,-10.2,-10.3,-10.4,-10.4,-10.0,-9.6,-9.4, -9.1,-9.2,-9.1,-9.3,-9.4,-9.5,-9.7,-9.8,
           -11.4,-11.3,-11.5,-11.7,-11.8,-11.7,-11.5,-11.7, -14.1,-14.2,-14.3,-14.3,-15.5,-16.6,-15.5,-14.5,-14.6]
t500_29 = [-5.1,-5.8,-6.4,-6.9,-8.4,-8.5,-7.1,-6.4, -6.2,-6.5,-6.8,-6.6,-7.3,-7.3,-7.5,-7.8,
           -7.7,-7.1,-7.1,-7.5,-8.2,-7.8,-7.5,-7.3, -7.4,-7.1,-6.9,-6.9,-7.0,-6.9,-7.0,-7.3,
           -8.3,-8.7,-8.8,-8.9,-8.9,-8.5,-8.1,-7.9, -7.6,-7.7,-7.6,-7.8,-7.9,-8.0,-8.2,-8.3,
           -7.9,-7.8,-8.0,-8.2,-8.3,-8.2,-8.0,-8.2, -7.6,-7.7,-7.8,-7.8,-8.1,-8.2,-8.1,-8.0,-8.1]
t500_30 = [-5.3,-6.0,-6.6,-7.1,-7.6,-7.5,-7.3,-6.6, -6.7,-7.0,-7.3,-7.1,-7.8,-7.8,-8.0,-8.3,
           -7.7,-7.1,-7.1,-7.5,-8.2,-7.8,-7.5,-7.3, -6.9,-6.6,-6.4,-6.4,-6.5,-6.4,-6.5,-6.8,
           -7.8,-8.2,-8.3,-8.4,-8.4,-8.0,-7.6,-7.4, -8.6,-8.7,-8.6,-8.8,-8.9,-9.0,-9.2,-9.3,
           -9.9,-9.8,-10.0,-10.2,-10.3,-10.2,-10.0,-10.2, -9.6,-9.7,-9.8,-9.8,-10.1,-10.2,-10.1,-10.0,-10.1]

# Precipitation (mm per 6h), steps 1..64
rr_mean = [0,0,0,0,0,0,0,0, 0,0,0,0.3,0.4,0.9,1.1,0.4, 0,0,0,0.1,0,0,0,0, 0,0,0,0,0,0,0,0,
           0.3,0.3,0,0.2,0,0,0,0, 0,0,0,0,0,0.6,0.2,0, 0,0,0.2,0,0,0,0,0, 0.3,0.3,0.3,0,0.3,0,0,0]
rr_ctrl = [0,0,0,0,0,0,0,0, 0,0,0,0,0,0,1.0,0, 0,0,0,0,0,0,0,0, 0,0,0,0,0,0,0,0,
           0,0,0,0,0,0,0,0, 0,0,0,0,0,0,0,0, 0,0,0,0,0,0,0,0, 0,0,0,0,0,0,0,0]
rr_gfs = [0,0,0,0,0,0,0,0, 0,0,0,1.1,0.6,0,0,0, 0,0,0,0,0,0,0,0, 0,0,0,0,0,0,0,0,
          0,0,0,0,0,0,0,0, 0,0,0,0,0,0,0,0, 0,0,0,0,0,0,0,0, 0,0,0,0,0,0,0,0]
rr_01 = [0,0,0,0,0,0,0,0, 0,0,0,0,0,0,1.0,0, 0,0,0,0,0,0,0,0, 0,0,0,0,0,0,0,0,
         0,0,0,0,0,0,0,0, 0,0,0,0,0,0,0,0, 0,0,0,0,0,0,0,0, 0,0,0,0,0,0,0,0]
rr_02 = [0,0,0,0,0,0,0,0, 0,0,0,0,0,0,0,0, 0,0,0,0,0,0,0,0, 0,0,0,0,0,0,0,0,
         0,0,0,0,0,0,0,0, 0,0,0,0,0,0,0,0, 0,0,0,0,0,0,0,0, 0,0,0,0,0,0,0,0]
rr_03 = [0,0,0,0,0,0,0,0, 0,0,0,0,0,0.6,0,0, 0,0,0,0,0,0,0,0, 0,0,0,0,0,0,0,0,
         0,0,0,0,0,0,0,0, 0,0,0,0,0,0,0,0, 0,0,0,0,0,0,0,0, 0,0,0,0,0,0,0,0]
rr_04 = [0,0,0,0,0,0,0,0, 0,0,0,0,0,1.8,2.2,0.4, 0,0,0,0,0,0,0,0, 0,0,0,0,0,0,0,0,
         0,0,0,0,0,0,0,0, 0,0,0,0,0,0,0,0, 0,0,0,0,0,0,0,0, 0,0,0,0,0,0,0,0]
rr_05 = [0,0,0,0,0,0,0,0, 0,0,0,0,0,0,0,0, 0,0,0,0,0,0,0,0, 0,0,0,0,0,0,0,0,
         2.0,0.5,0,0,0,0,0,0, 0,0,0,0,0,0,0,0, 0,0,0,0,0,0,0,0, 0,0,0,0,0,0,0,0]
rr_06 = [0,0,0,0,0,0,0,0, 0,0,0,0,0,0,0,0, 0,0,0,0,0,0,0,0, 0,0,0,0,0,0,0,0,
         0,0,0,0,0,0,0,0, 0,0,0,0,0,0,0,0, 0,0,0,0,0,0,0,0, 5.6,5.7,0.9,0.5,4.0,0,0,0]
rr_07 = [0,0,0,0,0,0,0,0, 0,0,0,0,0,0,1.5,0.3, 0,0,0,0,0,0,0,0, 0,0,0,0,0,0,0,0,
         0,0,0,0,0,0,0,0, 0,0,0,0,0,0,0,0, 0,0,0,0,0,0,0,0, 0,0,0,0,0,0,0,0]
rr_08 = [0,0,0,0,0,0,0,0, 0,0,0,0,0,0,0,0, 0,0,0,0,0,0,0,0, 0,0,0,0,0,0,0,0,
         0,0,0,0,0,0,0,0, 0,0,0,0,0,0,0,0, 0,0,0,0,0,0,0,0, 0,0,0,0,0,0,0,0]
rr_09 = [0,0,0,0,0,0,0,0, 0,0.3,1.4,0.5,0.8,2.5,4.5,1.0, 0,0,0,0,0,0,0,0, 0,0,0,0,0,0,0.8,0,
         0,0,0,0,0,0,0,0, 0,0,0,0,0,0,0,0, 0,0,0,0,0,0,0,0, 0,0,0,0.4,1.5,1.6,1.6,0]
rr_10 = [0,0,0,0,0,0,0,0, 0,0,0,0,0,0,0,0, 0,0,0,0,0,0,0.4,0, 0,0,0,0,0,0,0,0,
         0,0,0,0,0,0,0,0, 0,0,0,0,0,0,0,0, 0,0,0,0,0,0,0,0, 0,0,0,0,0,0,0,0]
rr_11 = [0,0,0,0,0,0,0,0, 0,0,0,0,0,0,0,0, 0,0,0.6,3.1,0,0,0,0, 0,0,0,0,0,0,0,0,
         0,0,0,0,0,0,0,0, 0,0,0,0,0,0,0,0, 0,0,0,0,0,0,0,0, 0,0,0,0,0,0,0,0]
rr_12 = [0,0,0,0,0,0,0,0, 0,0,0,0,0,0,0,0, 0,0,0,0,0,0.6,0.7,0.4, 0,0,0,0,0,0,0,0,
         0,0,0,0,0,0,0,0, 0,0,0,0,0,0,0,0, 0,0,0,0,0,0,0,0, 0,0,0,0,0,0,0,0]
rr_13 = [0,0,0,0,0,0,0,0, 0,0,0,0,0.5,2.0,5.2,1.5, 0,0,0,0,0,0,0,0, 0,0,0,0,0,0,0,0,
         0,0,0,0,0,0,0,0, 0,0,0,0,0,0,0,0, 0,0,1.0,0,0,0,0,0, 0,0,0,0,0,0,0,0]
rr_14 = [0,0,0,0,0,0,0,0, 0,0,0,0,0,1.5,2.0,0, 0,0,0,0,0,0,0,0, 0,0,0,0,0,0,0,0,
         0,0,0.5,2.2,2.2,2.0,0,0, 0,0,0,0,0,0.8,0,0, 0,0,0,0,0,0,0,0, 0,0,0,0,0,0,0,0]
rr_15 = [0,0,0,0,0,0,0,0, 0,0,0,0,0,0,0.8,0, 0,0,0,0,0,0,0,0, 0,0,0,0,0,0,0,0,
         0,0,0,0,0,0,0,0, 0,0,0,0,0,0,0,0, 0,0,0,0,0,0,0,0, 0,0,0,0,0,0,0,0]
rr_16 = [0,0,0,0,0,0,0,0, 0,0,0,0,0,0,0,0, 0,0,0,0,0,0,0,0, 0,0,0,0,0,0,0,0,
         0,0,0,0,0,0,0,0, 0,0,0,0,0,0,0,0, 0,0,0,0,0,0,0,0, 0,0,0,0,0,0,0,0]
rr_17 = [0,0,0,0,0,0,0,0, 0,0,0,0,0,2.5,1.5,0, 0,0,0,0,0,0,0,0, 0,0,0,0,0,0,0,0,
         0,0,0,0,0,0,0,0, 0,0,0,0,0,0,0,0, 0,0,0,0,0,0,0,0, 0,0,0,0,0,0,0,0]
rr_18 = [0,0,0,0,0,0,0,0, 0,0,0,0,0,0,0,0, 0,0,0,0,0,0,0,0, 0,0,0,0,0,0,0,0,
         0,0,0,0,0,0,0,0, 0,0,0,0,0,0,0,0, 0,0,0,0,0,0,0,0, 0,0,0,0,0,0,0,0]
rr_19 = [0,0,0,0,0,0,0,0, 0,0,0,0,0,0,0,1.3, 0,0,0,0,0,0,0,0, 0,0,0,0,0,0,0,0,
         0,0,0,0,0,0,0,0, 0,0,0,0,0,0,0,0, 0,0,0,0,0,0,0,0, 1.0,0,0,0,0,0,0,0]
rr_20 = [0,0,0,0,0,0,0,0, 0,0,0,0,0,0,0,0, 0,0,0,0,0,0,0,0, 0,0,0,0,0,0,0,0,
         0,0,0,0,0,0,0,0, 0,0,0,0,0,0,0,0, 0,0,0,0,0,0,0,0, 0,0,0,0,0,0,0,0]
rr_21 = [0,0,0,0,0,0,0,0, 0,0,0.8,5.2,2.2,1.0,0.5,0, 0,0,0,0,0,0,0,0, 0,0,0,0,0,0,0,0,
         0,0,0,0,0,0,0,0, 0,0,0,0,0,0,0,0, 0,0,0,0,0,0,0,0, 0,0,0,0,0,0,0,0]
rr_22 = [0,0,0,0,0,0,0,0, 0,0,0,0,0,0,0,0, 0,0,0,0,0,0,0,0, 0,0,0,0,0,0,0,0.3,
         3.4,4.1,0,0,0,0,0,0, 0,0,0,0,0,0,0,0, 0,0,0,0,0,0,0,0, 0,0,0,0,0,0,0,0]
rr_23 = [0,0,0,0,0,0,0,0, 0,0,0,0,0,0,0,0, 0,0,0,0,0,0,0,0, 0,0,0,0,0,0,0,0,
         0,0,0,0,0,0,0,0, 0,0,0,0,0,0,0,0, 0,0,0,0,0,0,0,0, 0,0,0,0,0,0,0,0]
rr_24 = [0,0,0,0,0,0,0,0, 0,0,0,0,0,0,0,0, 0,0,0,0,0,0,0,0, 0,0,0,0,0,0,0,0,
         0,1.4,0,0,0,0,0,0, 0,0,0,0,0,0,0,0, 1.5,0.3,1.7,0.5,0,0,0,0, 0,0,0,0,0,0,0,0]
rr_25 = [0,0,0,0,0,0,0,0, 0,0,0,0,0,0,1.5,0, 0,0,0,0,0,0,0,0, 0,0,0,0,0,0,0,0,
         1.1,0,0,0,0,0,0,0, 0,0,0,0,0,0,0,0, 0,0,0,0,0,0,0,0, 0,0,0,0,0,0,0,0]
rr_26 = [0,0,0,0,0,0,0,0, 0,0,0,0,0,3.1,1.2,0, 0,0,0,0,0,0,0,0, 0,0,0,0,0,0,0,0,
         0,0,0,1.0,0,0,0,0, 0,0,0,0,0,0,0,0, 0,0,0,0,0,0,0,0, 0,0,0,0,0,0,0,0]
rr_27 = [0,0,0,0,0,0,0,0, 0,0,0,0,0,0,0,0, 0,0,0,0,0,0,0,0, 0,0,0,0,0,0,0,0,
         0,0,0,0,0,0,0,0, 0,0,0,0,0,0,0,0, 0,0,0,0,0,0,0,0, 0,0,0,0,0,0,0,0]
rr_28 = [0,0,0,0,0,0,0,0, 0,0,0,0,0,0,0,0, 0,0,0,0,0,0,0,0, 0,0,0,0,0,0,0,0,
         0,0,0,0,0,0,0,0, 0,0,0,0,0,0,0,0, 0,0,2.2,2.2,2.2,0.3,0,0, 0,0,5.0,2.0,0.3,0,0,0]
rr_29 = [0,0,0,0,0,0,0,0, 0,0,0,0,0,0,2.7,0.8, 0,0,0,0,0,0,0,0, 0,0,0,0,0,0,0,0,
         0,0,0,0,0,0,0,0, 0,0,0,0,1.6,14.6,2.4,0, 0,0,0,0,0,0,0,0, 0,0,0,0,0,0,0,0]
rr_30 = [0,0,0,0,0,0,0,0, 0,0,0,0,0,0,1.0,0, 0,0,0,0,0,0,0,0, 0,0,0,0,0,0,0,0,
         0,0,0,0,0,0,0,0, 0,0,0,0,0,0,0,0, 0,0,0,0,0,0,0,0, 0,0,0,0,0,0,0,0]

t850_members = [t850_01, t850_02, t850_03, t850_04, t850_05, t850_06, t850_07, t850_08, t850_09, t850_10,
                t850_11, t850_12, t850_13, t850_14, t850_15, t850_16, t850_17, t850_18, t850_19, t850_20,
                t850_21, t850_22, t850_23, t850_24, t850_25, t850_26, t850_27, t850_28, t850_29, t850_30]
t500_members = [t500_01, t500_02, t500_03, t500_04, t500_05, t500_06, t500_07, t500_08, t500_09, t500_10,
                t500_11, t500_12, t500_13, t500_14, t500_15, t500_16, t500_17, t500_18, t500_19, t500_20,
                t500_21, t500_22, t500_23, t500_24, t500_25, t500_26, t500_27, t500_28, t500_29, t500_30]
rr_members = [rr_01, rr_02, rr_03, rr_04, rr_05, rr_06, rr_07, rr_08, rr_09, rr_10,
              rr_11, rr_12, rr_13, rr_14, rr_15, rr_16, rr_17, rr_18, rr_19, rr_20,
              rr_21, rr_22, rr_23, rr_24, rr_25, rr_26, rr_27, rr_28, rr_29, rr_30]

# ---------------- layout helpers ----------------
W, H = 740, 700
ML, MR, MT, MB = 50, 50, 0, 100
PW, PH = W - ML - MR, H - MT - MB
FONT = "DejaVu Sans Mono"


def px(x):
    return (x - ML) / PW


def py(y):
    return (MT + PH - y) / PH


Y_TOP = 232 / 7.0
Y_BOT = -368 / 7.0
OFFSET_RR = 45.0

fig = go.Figure()

rr_steps = steps[1:]


def add_line(x, y, color, width, msize, yaxis="y", symbol="circle"):
    fig.add_trace(go.Scatter(
        x=x, y=y, mode="lines+markers" if msize else "lines", yaxis=yaxis,
        line=dict(color=color, width=width),
        marker=dict(color=color, size=msize, symbol=symbol),
        showlegend=False, hoverinfo="skip"))


for k in range(30):
    add_line(steps, t850_members[k], member_colors[k], 1, 3)
for k in range(30):
    add_line(steps, t500_members[k], member_colors[k], 1, 3)
for series in (t850_gfs, t500_gfs):
    add_line(steps, series, "#000000", 3, 4, symbol="square")
for series in (t850_ctrl, t500_ctrl):
    add_line(steps, series, "#0000ff", 3, 4, symbol="square")
for series in (t850_mean, t500_mean):
    add_line(steps, series, "#ff0000", 4.5, 0)

for k in range(30):
    add_line(rr_steps, rr_members[k], member_colors[k], 1, 3, yaxis="y2")
add_line(rr_steps, rr_gfs, "#000000", 3, 4, yaxis="y2", symbol="square")
add_line(rr_steps, rr_ctrl, "#0000ff", 3, 4, yaxis="y2", symbol="square")
add_line(rr_steps, rr_mean, "#ff0000", 4.5, 0, yaxis="y2")

day_pos = [3 + 4 * k for k in range(len(day_labels))]
left_ticks = [30, 25, 20, 15, 10, 5, 0, -5, -10, -15, -20, -25, -30, -35, -40, -45]
right_ticks = [75, 70, 65, 60, 55, 50, 45, 40, 35, 30, 25, 20, 15, 10, 5, 0]

shapes = []
# heavier horizontal grid lines
for lv in [30, 20, 10, -10, -20, -30, -40]:
    shapes.append(dict(type="line", xref="paper", yref="y", x0=0, x1=1, y0=lv, y1=lv,
                       line=dict(color="#c0c0c0", width=2), layer="below"))
shapes.append(dict(type="line", xref="paper", yref="y", x0=0, x1=1, y0=0, y1=0,
                   line=dict(color="#a0a0a0", width=3), layer="below"))

# legend lines
for (x0, x1, yy, col) in [(35, 65, 637, "#ff0000"), (225, 256, 637, "#0000ff"), (225, 256, 647, "#000000")]:
    shapes.append(dict(type="line", xref="paper", yref="paper", x0=px(x0), x1=px(x1),
                       y0=py(yy), y1=py(yy), line=dict(color=col, width=4)))
# member swatches
annotations = []
for k in range(30):
    x0 = 400 + 11.31 * k
    shapes.append(dict(type="rect", xref="paper", yref="paper", x0=px(x0), x1=px(x0 + 10),
                       y0=py(656.5), y1=py(649.5), line=dict(width=0), fillcolor=member_colors[k]))
    annotations.append(dict(x=px(x0 + 5), y=py(643), xref="paper", yref="paper", text=member_ids[k],
                            showarrow=False, xanchor="center", yanchor="middle",
                            font=dict(family=FONT, size=8, color="#000000")))
# title box
shapes.append(dict(type="rect", xref="paper", yref="paper", x0=px(21), x1=px(440),
                   y0=py(698), y1=py(667.5), line=dict(color="#000000", width=2)))


def txt(x, y, s, size=10, anchor="left", bold=False, color="#000000"):
    annotations.append(dict(x=px(x), y=py(y), xref="paper", yref="paper",
                            text=("<b>%s</b>" % s) if bold else s, showarrow=False,
                            xanchor=anchor, yanchor="middle",
                            font=dict(family=FONT, size=size, color=color)))


txt(60, 38, "Temp. 850hPa")
txt(60, 255, "Temp. 500hPa")
txt(59, 537, "Précipitations")
txt(20, 607, "(°C)")
txt(10, 623, "Alt. 162m")
txt(710, 607, "(mm)")
txt(74, 637, "Moyenne des scénarios")
txt(263, 637, "Run de contrôle")
txt(263, 647, "Run GFS")
txt(54, 658, "❄", size=12, color="#5aa0e0")
txt(74, 659, "Risque neige")
txt(394, 653, "30 Perts.", anchor="right")
txt(30, 677, "Diagramme des ensembles GEFS sur 384h : 40.6N 22.9E", size=11.4, bold=True)
txt(30, 691, "Températures 850hPa et 500hPa (°C) , précipitations (mm)")
txt(450, 672, "Ensemble GEFS du 21/08/2026 - 06Z")
txt(450, 691, "Copyright 2026 Meteociel.fr", size=11.5, bold=True)

fig.update_layout(
    width=W, height=H,
    margin=dict(l=ML, r=MR, t=MT, b=MB, pad=0),
    paper_bgcolor="#ffffff", plot_bgcolor="#ffffff",
    showlegend=False,
    shapes=shapes, annotations=annotations,
    font=dict(family=FONT, size=10, color="#000000"),
    xaxis=dict(range=[0, 64], tickmode="array", tickvals=day_pos, ticktext=day_labels,
               tickangle=-90, showgrid=True, gridcolor="#c0c0c0", gridwidth=1,
               zeroline=False, showline=True, linecolor="#000000", linewidth=2,
               ticks="", ticklabelstandoff=2, ticklabelshift=7,
               tickfont=dict(family=FONT, size=10, color="#000000")),
    yaxis=dict(range=[Y_BOT, Y_TOP], tickmode="array", tickvals=left_ticks,
               ticktext=[str(v) for v in left_ticks],
               showgrid=True, gridcolor="#c0c0c0", gridwidth=1, zeroline=False,
               showline=True, linecolor="#000000", linewidth=2, ticks="",
               ticklabelstandoff=16, tickfont=dict(family=FONT, size=10, color="#000000")),
    yaxis2=dict(range=[Y_BOT + OFFSET_RR, Y_TOP + OFFSET_RR], overlaying="y", side="right",
                tickmode="array", tickvals=right_ticks, ticktext=[str(v) for v in right_ticks],
                showgrid=False, zeroline=False, showline=True, linecolor="#000000", linewidth=2,
                ticks="", ticklabelstandoff=15,
                tickfont=dict(family=FONT, size=10, color="#000000")),
)

fig.write_html("out.html", config={"displayModeBar": False},
               post_script="document.body.style.margin='0';document.body.style.padding='0';"
                           "document.documentElement.style.overflow='hidden';")
